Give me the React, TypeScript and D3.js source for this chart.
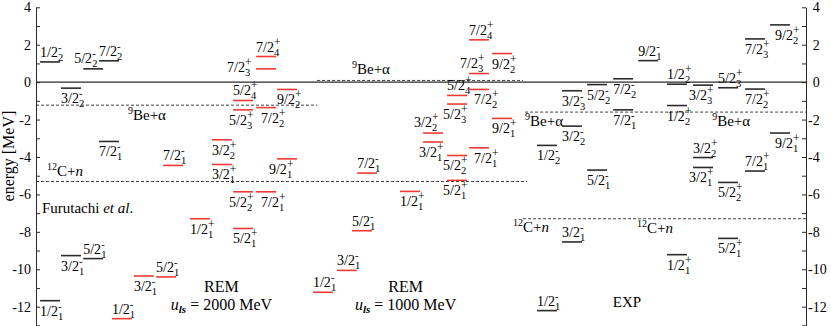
import * as d3 from "d3";
import { useEffect, useRef } from "react";

// level = spin j, parity, index, energy (MeV), column slot, label placement
const furutachiLevels = [
  { j: "1/2", p: "-", n: 2, E: 1.08, col: 0.2, pos: "a" },
  { j: "5/2", p: "-", n: 2, E: 0.71, col: 2.3, pos: "al" },
  { j: "7/2", p: "-", n: 2, E: 1.14, col: 3.07, pos: "a" },
  { j: "3/2", p: "-", n: 2, E: -0.32, col: 1.22, pos: "b" },
  { j: "7/2", p: "-", n: 1, E: -3.17, col: 3.07, pos: "b" },
  { j: "3/2", p: "-", n: 1, E: -9.27, col: 1.22, pos: "b" },
  { j: "5/2", p: "-", n: 1, E: -9.43, col: 2.3, pos: "a" },
  { j: "1/2", p: "-", n: 1, E: -11.68, col: 0.2, pos: "b" },
];

const rem2000Levels = [
  { j: "1/2", p: "-", n: 1, E: -12.64, col: 3.7, pos: "a" },
  { j: "3/2", p: "-", n: 1, E: -10.36, col: 4.77, pos: "b" },
  { j: "5/2", p: "-", n: 1, E: -10.41, col: 5.85, pos: "a" },
  { j: "7/2", p: "-", n: 1, E: -4.45, col: 6.19, pos: "a" },
  { j: "1/2", p: "+", n: 1, E: -7.3, col: 7.5, pos: "b" },
  { j: "3/2", p: "+", n: 1, E: -4.4, col: 8.57, pos: "b" },
  { j: "3/2", p: "+", n: 2, E: -3.08, col: 8.57, pos: "b" },
  { j: "5/2", p: "+", n: 1, E: -7.82, col: 9.6, pos: "b" },
  { j: "5/2", p: "+", n: 2, E: -5.86, col: 9.6, pos: "bl" },
  { j: "5/2", p: "+", n: 3, E: -1.48, col: 9.6, pos: "bl" },
  { j: "5/2", p: "+", n: 4, E: -0.98, col: 9.6, pos: "a" },
  { j: "7/2", p: "+", n: 1, E: -5.86, col: 10.72, pos: "br" },
  { j: "7/2", p: "+", n: 2, E: -1.36, col: 10.72, pos: "br" },
  { j: "7/2", p: "+", n: 3, E: 0.71, col: 10.72, pos: "l" },
  { j: "7/2", p: "+", n: 4, E: 1.37, col: 10.72, pos: "a" },
  { j: "9/2", p: "+", n: 1, E: -4.1, col: 11.74, pos: "be" },
  { j: "9/2", p: "+", n: 2, E: -0.39, col: 11.74, pos: "b" },
];

const rem1000Levels = [
  { j: "1/2", p: "-", n: 1, E: -11.23, col: 13.49, pos: "a" },
  { j: "3/2", p: "-", n: 1, E: -10.06, col: 14.66, pos: "a" },
  { j: "5/2", p: "-", n: 1, E: -7.94, col: 15.39, pos: "a" },
  { j: "7/2", p: "-", n: 1, E: -4.86, col: 15.64, pos: "a" },
  { j: "1/2", p: "+", n: 1, E: -5.84, col: 17.73, pos: "b" },
  { j: "3/2", p: "+", n: 1, E: -3.2, col: 18.85, pos: "bl" },
  { j: "3/2", p: "+", n: 2, E: -2.72, col: 18.85, pos: "al" },
  { j: "5/2", p: "+", n: 1, E: -5.25, col: 20.02, pos: "bl" },
  { j: "5/2", p: "+", n: 2, E: -3.92, col: 20.02, pos: "bl" },
  { j: "5/2", p: "+", n: 3, E: -1.17, col: 20.02, pos: "bl" },
  { j: "5/2", p: "+", n: 4, E: -0.71, col: 20.02, pos: "a" },
  { j: "7/2", p: "+", n: 1, E: -3.51, col: 21.09, pos: "br" },
  { j: "7/2", p: "+", n: 2, E: -0.39, col: 21.09, pos: "br" },
  { j: "7/2", p: "+", n: 3, E: 0.46, col: 21.09, pos: "al" },
  { j: "7/2", p: "+", n: 4, E: 2.26, col: 21.09, pos: "a" },
  { j: "9/2", p: "+", n: 1, E: -1.94, col: 22.21, pos: "b" },
  { j: "9/2", p: "+", n: 2, E: 1.53, col: 22.21, pos: "b" },
];

const expLevels = [
  { j: "1/2", p: "-", n: 1, E: -12.21, col: 24.4, pos: "a" },
  { j: "1/2", p: "-", n: 2, E: -3.38, col: 24.4, pos: "b" },
  { j: "3/2", p: "-", n: 1, E: -8.54, col: 25.62, pos: "a" },
  { j: "3/2", p: "-", n: 2, E: -2.35, col: 25.62, pos: "b" },
  { j: "3/2", p: "-", n: 3, E: -0.46, col: 25.62, pos: "b" },
  { j: "5/2", p: "-", n: 1, E: -4.7, col: 26.84, pos: "b" },
  { j: "5/2", p: "-", n: 2, E: -0.13, col: 26.84, pos: "b" },
  { j: "7/2", p: "-", n: 1, E: -1.48, col: 28.11, pos: "b" },
  { j: "7/2", p: "-", n: 2, E: 0.18, col: 28.11, pos: "b" },
  { j: "9/2", p: "-", n: 1, E: 1.15, col: 29.33, pos: "a" },
  { j: "1/2", p: "+", n: 1, E: -9.22, col: 30.73, pos: "b" },
  { j: "1/2", p: "+", n: 2, E: -1.25, col: 30.73, pos: "b" },
  { j: "1/2", p: "+", n: 2, E: -0.11, col: 30.73, pos: "a" },
  { j: "3/2", p: "+", n: 1, E: -4.56, col: 32.0, pos: "bl" },
  { j: "3/2", p: "+", n: 2, E: -4.03, col: 32.0, pos: "a" },
  { j: "3/2", p: "+", n: 3, E: -0.16, col: 32.0, pos: "bl" },
  { j: "5/2", p: "+", n: 1, E: -8.35, col: 33.22, pos: "b" },
  { j: "5/2", p: "+", n: 2, E: -5.36, col: 33.22, pos: "b" },
  { j: "5/2", p: "+", n: 3, E: -0.3, col: 33.22, pos: "a" },
  { j: "7/2", p: "+", n: 1, E: -4.75, col: 34.53, pos: "a" },
  { j: "7/2", p: "+", n: 2, E: -0.37, col: 34.53, pos: "b" },
  { j: "7/2", p: "+", n: 3, E: 2.31, col: 34.53, pos: "b" },
  { j: "9/2", p: "+", n: 1, E: -2.72, col: 35.75, pos: "br" },
  { j: "9/2", p: "+", n: 2, E: 3.06, col: 35.75, pos: "br" },
];

// threshold energies (dashed) with the column span they cover
const thresholds = [
  { name: "9Be+a", E: -1.23, from: 0, to: 13.69 },
  { name: "9Be+a", E: 0.09, from: 13.69, to: 23.72 },
  { name: "12C+n", E: -5.31, from: 0, to: 23.92 },
  { name: "9Be+a", E: -1.6, from: 23.82, to: 37.5 },
  { name: "12C+n", E: -7.3, from: 23.72, to: 37.5 },
];

// where threshold names are written (column, energy)
const beAlphaLabels = [
  { col: 4.48, E: -2.02 },
  { col: 15.39, E: 0.44 },
  { col: 23.82, E: -2.34 },
  { col: 32.93, E: -2.34 },
];
const cnLabels = [
  { col: 0.54, E: -5.01 },
  { col: 23.23, E: -8.0 },
  { col: 29.27, E: -8.06 },
];

const remLabels = [
  { col: 9.03, uls: "2000" },
  { col: 18.0, uls: "1000" },
];

const yTicks = d3.range(-13, 5);

const SERIF = "'Liberation Serif', 'Times New Roman', serif";
const RED = "#ee3a33";
const DARK = "#2b2b2b";
const LW = 0.97;

function App() {
  const W = 831;
  const H = 326;
  const x = d3.scaleLinear().domain([0, 37.5]).range([36, 806]);
  const y = d3.scaleLinear().domain([-13, 4]).range([325.4, 7.3]);

  const leftRef = useRef(null);
  const rightRef = useRef(null);

  useEffect(() => {
    const fmt = (d) => (d % 2 === 0 ? String(d) : "");

    const left = d3
      .axisLeft(y)
      .tickValues(yTicks)
      .tickFormat(fmt)
      .tickSizeInner(-4)
      .tickSizeOuter(0)
      .tickPadding(5);
    const gl = d3.select(leftRef.current);
    gl.selectAll("*").remove();
    gl.call(left);
    gl.attr("font-family", SERIF).attr("font-size", 14);
    gl.selectAll("line").attr("stroke", DARK);
    gl.select(".domain").attr("stroke", DARK);
    gl.selectAll("text").attr("fill", "#000");

    const right = d3
      .axisRight(y)
      .tickValues(yTicks)
      .tickFormat(fmt)
      .tickSizeInner(-4)
      .tickSizeOuter(0)
      .tickPadding(2);
    const gr = d3.select(rightRef.current);
    gr.selectAll("*").remove();
    gr.call(right);
    gr.attr("font-family", SERIF).attr("font-size", 14);
    gr.selectAll("line").attr("stroke", DARK);
    gr.select(".domain").attr("stroke", DARK);
    gr.selectAll("text")
      .attr("fill", "#000")
      .attr("dx", (d) => (d >= 0 ? 4.7 : 0));
  }, []);

  const drawLevels = (levels, color, key) =>
    levels.map((lv, i) => {
      const x0 = x(lv.col);
      const x1 = x(lv.col + LW);
      const yy = y(lv.E);
      let tx = x0;
      let ty = yy + 15;
      if (lv.pos === "a") ty = yy - 5;
      if (lv.pos === "al") {
        tx = x0 - 9;
        ty = yy - 6;
      }
      if (lv.pos === "bl") tx = x0 - 4;
      if (lv.pos === "br") tx = x0 + 5;
      if (lv.pos === "be") tx = x1 - 28;
      if (lv.pos === "l") {
        tx = x0 - 29;
        ty = yy + 3;
      }
      return (
        <g key={key + i}>
          <line x1={x0} x2={x1} y1={yy} y2={yy} stroke={color} strokeWidth={1.6} />
          <text x={tx} y={ty} fontSize={14}>
            {lv.j}
          </text>
          <text x={tx + 17.9} y={ty - 6} fontSize={lv.p === "+" ? 11.5 : 10.5}>
            {lv.p}
          </text>
          <text x={tx + 17.9} y={ty + 4} fontSize={10.5}>
            {lv.n}
          </text>
        </g>
      );
    });

  return (
    <div style={{ position: "absolute", left: 0, top: 0 }}>
      <svg width={W} height={H} style={{ display: "block", background: "#fff" }}>
        <g fontFamily={SERIF} fill="#000">
          {/* zero line */}
          <line x1={x(0)} x2={x(37.5)} y1={y(0)} y2={y(0)} stroke={DARK} strokeWidth={1.2} />

          {/* thresholds */}
          {thresholds.map((t, i) => (
            <line
              key={"t" + i}
              x1={x(t.from)}
              x2={x(t.to)}
              y1={y(t.E)}
              y2={y(t.E)}
              stroke={DARK}
              strokeWidth={0.9}
              strokeDasharray="3,2"
            />
          ))}

          {drawLevels(furutachiLevels, DARK, "f")}
          {drawLevels(rem2000Levels, RED, "r2")}
          {drawLevels(rem1000Levels, RED, "r1")}
          {drawLevels(expLevels, DARK, "e")}

          {beAlphaLabels.map((l, i) => (
            <text key={"ba" + i} x={x(l.col)} y={y(l.E)} fontSize={15}>
              <tspan fontSize={10} dy={-6}>9</tspan>
              <tspan dy={6}>Be+α</tspan>
            </text>
          ))}
          {cnLabels.map((l, i) => (
            <text key={"cn" + i} x={x(l.col)} y={y(l.E)} fontSize={15}>
              <tspan fontSize={10} dy={-6}>12</tspan>
              <tspan dy={6}>C+</tspan>
              <tspan fontStyle="italic">n</tspan>
            </text>
          ))}

          <text x={x(0.29)} y={y(-6.99)} fontSize={15}>
            Furutachi <tspan fontStyle="italic">et al</tspan>.
          </text>

          {remLabels.map((l, i) => (
            <g key={"rem" + i}>
              <text x={x(l.col)} y={y(-11.21)} fontSize={16} textAnchor="middle">
                REM
              </text>
              <text x={x(l.col)} y={y(-12.17)} fontSize={16} textAnchor="middle">
                <tspan fontStyle="italic">u</tspan>
                <tspan fontStyle="italic" fontWeight="bold" fontSize={11} dy={3}>
                  ls
                </tspan>
                <tspan dy={-3}>{" = " + l.uls + " MeV"}</tspan>
              </text>
            </g>
          ))}

          <text x={x(28.78)} y={y(-11.99)} fontSize={15} textAnchor="middle">
            EXP
          </text>

          <text
            transform={`translate(14,${y(-3.95)}) rotate(-90)`}
            textAnchor="middle"
            fontSize={16}
          >
            energy [MeV]
          </text>
        </g>
        <g ref={leftRef} transform={`translate(${x(0)},0)`} />
        <g ref={rightRef} transform={`translate(${x(37.5)},0)`} />
      </svg>
    </div>
  );
}

export default App;
